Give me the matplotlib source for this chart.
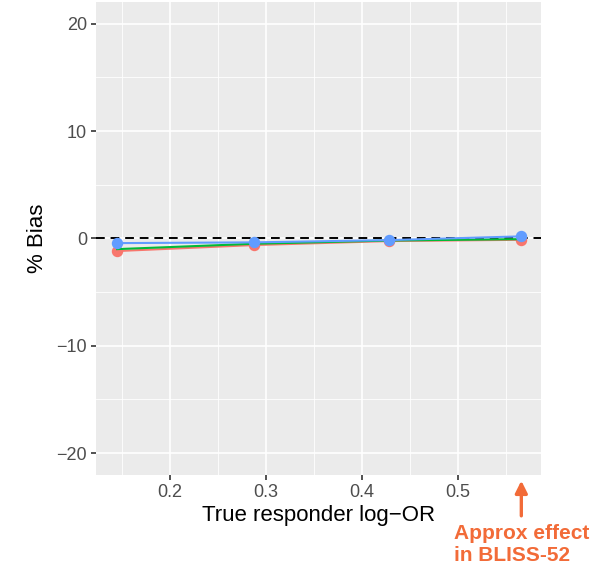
import matplotlib.pyplot as plt
from matplotlib.ticker import MultipleLocator

plt.rcParams['font.family'] = ['Liberation Sans', 'DejaVu Sans']

# data
log_or = [0.145, 0.288, 0.428, 0.566]
bias_red = [-1.18, -0.62, -0.25, -0.13]
bias_green = [-1.0, -0.5, -0.2, -0.07]
bias_blue = [-0.44, -0.37, -0.16, 0.19]
x_ticks = [0.2, 0.3, 0.4, 0.5]
y_ticks = [-20, -10, 0, 10, 20]
bliss_x = 0.566

fig = plt.figure(figsize=(5.91, 5.71), dpi=100)
ax = fig.add_axes([0.1624, 0.168, 0.7530, 0.829])
ax.set_facecolor('#EBEBEB')
for s in ax.spines.values():
    s.set_visible(False)

ax.set_xlim(0.123, 0.5865)
ax.set_ylim(-22.05, 22.05)
ax.set_xticks(x_ticks)
ax.set_xticklabels(['0.2', '0.3', '0.4', '0.5'])
ax.set_yticks(y_ticks)
ax.set_yticklabels(['\u221220', '\u221210', '0', '10', '20'])
ax.xaxis.set_minor_locator(MultipleLocator(0.05))
ax.yaxis.set_minor_locator(MultipleLocator(5))
ax.grid(which='major', color='white', linewidth=1.2)
ax.grid(which='minor', color='white', linewidth=0.6)
ax.set_axisbelow(True)
ax.tick_params(which='major', length=3.5, width=1.2, color='#333333',
               labelsize=13, labelcolor='#4D4D4D', pad=3)
ax.tick_params(which='minor', length=0)

ax.axhline(0, color='black', linewidth=1.4, dashes=(4.5, 3), zorder=2)

ax.plot(log_or, bias_red, color='#F8766D', linewidth=1.5, marker='o',
        markersize=7.2, zorder=3)
ax.plot(log_or, bias_green, color='#00BA38', linewidth=1.5, zorder=4)
ax.plot(log_or, bias_blue, color='#619CFF', linewidth=1.5, marker='o',
        markersize=7.2, zorder=5)

ax.set_xlabel('True responder log\u2212OR', fontsize=16, labelpad=3)
ax.set_ylabel('% Bias', fontsize=16, labelpad=6)

orange = '#F26B38'
tr = ax.get_xaxis_transform()
ax.annotate('', xy=(bliss_x, -0.006), xycoords=tr,
            xytext=(bliss_x, -0.092), textcoords=tr,
            arrowprops=dict(arrowstyle='-|>', color=orange, lw=2.4,
                            mutation_scale=18),
            annotation_clip=False)
fig.text(454 / 591, 1 - 524 / 571, 'Approx effect\nin BLISS-52',
         color=orange, fontsize=15, fontweight='bold', ha='left', va='top',
         linespacing=1.2)

fig.savefig('out.png', dpi=100)
